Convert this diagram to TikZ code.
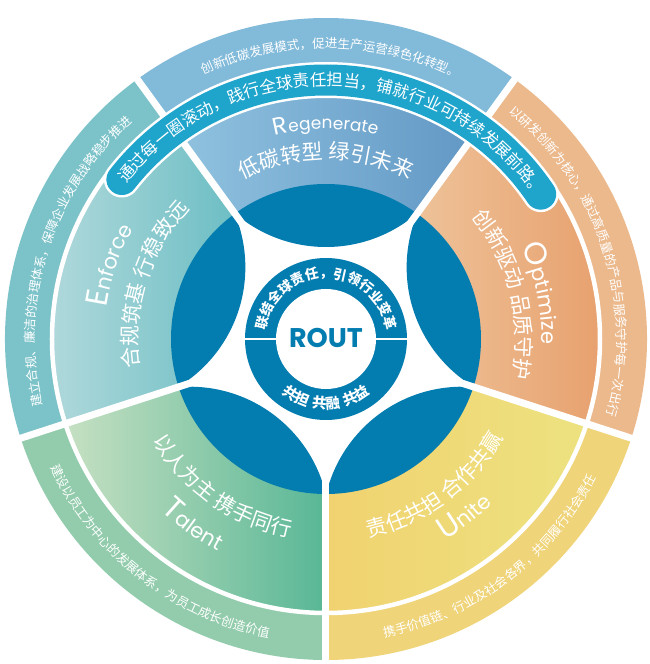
\documentclass[tikz,border=0pt]{standalone}
\usepackage{fontspec}
\newfontfamily\cjk{Noto Sans CJK SC}
\newfontfamily\latin{Poppins}
\usetikzlibrary{decorations.text}

\definecolor{disc}{RGB}{3,124,176}
\definecolor{banner}{RGB}{31,164,204}
\definecolor{regL}{RGB}{146,196,224}
\definecolor{regR}{RGB}{96,150,196}
\definecolor{regO}{RGB}{130,186,218}
\definecolor{optL}{RGB}{238,194,152}
\definecolor{optR}{RGB}{231,157,106}
\definecolor{optO}{RGB}{236,185,140}
\definecolor{uniL}{RGB}{241,210,112}
\definecolor{uniR}{RGB}{237,226,128}
\definecolor{uniO}{RGB}{240,212,122}
\definecolor{talL}{RGB}{198,224,194}
\definecolor{talR}{RGB}{88,183,150}
\definecolor{talO}{RGB}{146,204,172}
\definecolor{enfL}{RGB}{184,220,222}
\definecolor{enfR}{RGB}{108,190,196}
\definecolor{enfO}{RGB}{124,195,201}

\begin{document}
\begin{tikzpicture}[x=1pt, y=1pt,
    arctext/.style={decorate, decoration={text along path, text align=center, text color=white, text={#1}}},
    bandgap/.style={white, line width=4.5},
    sectorgap/.style={white, line width=7}]
  \useasboundingbox (-326,-325) rectangle (324,339);

  % the five sectors, inner band and outer band
  \foreach \a/\cl/\cr/\co in {90/regL/regR/regO, 18/optL/optR/optO, -54/uniL/uniR/uniO, -126/talL/talR/talO, 162/enfL/enfR/enfO}{
    \shade[left color=\cl, right color=\cr] ({\a+36}:154) arc[start angle=\a+36, end angle=\a-36, radius=154] -- ({\a-36}:274) arc[start angle=\a-36, end angle=\a+36, radius=274] -- cycle;
    \fill[\co] ({\a+36}:274) arc[start angle=\a+36, end angle=\a-36, radius=274] -- ({\a-36}:321) arc[start angle=\a-36, end angle=\a+36, radius=321] -- cycle;
  }
  \draw[bandgap] (0,0) circle[radius=274];

  % blue lobes
  \begin{scope}
    \clip (0,0) circle[radius=155];
    \foreach \a in {90,18,-54,-126,162}
      \fill[disc] (\a:232) circle[radius=140];
  \end{scope}
  \foreach \g in {54,126,198,270,342}
    \draw[sectorgap] (\g:82) -- (\g:330);

  % centre ring
  \fill[disc] (0,0) circle[radius=81];
  \fill[white] (0,0) circle[radius=50];
  \draw[white, line width=2] (-82,0) -- (-49,0) (49,0) -- (82,0);
  \node[font=\latin\bfseries\fontsize{27}{27}\selectfont, text=disc] (rout) at (0,1) {ROUT};
  \path[arctext={|\cjk\bfseries\fontsize{13.5}{14}\selectfont|联结全球责任，引领行业变革}] (178:61) arc[start angle=178, end angle=2, radius=61];
  \path[arctext={|\cjk\bfseries\fontsize{14.5}{15}\selectfont|共担{\kern5pt}共融{\kern5pt}共益}] (200:70) arc[start angle=200, end angle=340, radius=70];

  % banner
  \draw[white, line width=36, line cap=round] (142:259) arc[start angle=142, end angle=34, radius=259];
  \draw[banner, line width=31, line cap=round] (142:259) arc[start angle=142, end angle=34, radius=259];
  \path[arctext={|\cjk\fontsize{16.5}{18}\selectfont|通过每一圈滚动，践行全球责任担当，铺就行业可持续发展前路。}] (148:253) arc[start angle=148, end angle=28, radius=253];

  % outer band texts
  \path[arctext={|\cjk\fontsize{12.5}{14}\selectfont|创新低碳发展模式，促进生产运营绿色化转型。}] (129:291) arc[start angle=129, end angle=49, radius=291];
  \path[arctext={|\cjk\fontsize{12.5}{14}\selectfont|以研发创新为核心，通过高质量的产品与服务守护每一次出行}] (60:291) arc[start angle=60, end angle=-24, radius=291];
  \path[arctext={|\cjk\fontsize{12.5}{14}\selectfont|携手价值链、行业及社会各界，共同履行社会责任}] (-95:304) arc[start angle=-95, end angle=-11, radius=304];
  \path[arctext={|\cjk\fontsize{12.5}{14}\selectfont|建设以员工为中心的发展体系，为员工成长创造价值}] (190:304) arc[start angle=190, end angle=274, radius=304];
  \path[arctext={|\cjk\fontsize{12.5}{14}\selectfont|建立合规、廉洁的治理体系，保障企业发展战略稳步推进}] (205:291) arc[start angle=205, end angle=120, radius=291];

  % sector titles
  \path[arctext={|\cjk\fontsize{21}{22}\selectfont|低碳转型 绿引未来}] (140:180) arc[start angle=140, end angle=40, radius=180];
  \path[arctext={|\cjk\fontsize{21}{22}\selectfont|创新驱动 品质守护}] (62:190) arc[start angle=62, end angle=-34, radius=190];
  \path[arctext={|\cjk\fontsize{21}{22}\selectfont|责任共担 合作共赢}] (-100:203) arc[start angle=-100, end angle=-7, radius=203];
  \path[arctext={|\cjk\fontsize{21}{22}\selectfont|以人为主 携手同行}] (188:201) arc[start angle=188, end angle=282, radius=201];
  \path[arctext={|\cjk\fontsize{21}{22}\selectfont|合规筑基 行稳致远}] (210:188) arc[start angle=210, end angle=115, radius=188];

  % english words
  \path[arctext={|\latin\fontsize{24}{24}\selectfont|R|\latin\fontsize{17}{17}\selectfont|egenerate}] (130:210) arc[start angle=130, end angle=50, radius=210];
  \path[arctext={|\latin\fontsize{31}{31}\selectfont|O|\latin\fontsize{21}{21}\selectfont|ptimize}] (55:216) arc[start angle=55, end angle=-31, radius=216];
  \path[arctext={|\latin\fontsize{31}{31}\selectfont|U|\latin\fontsize{21}{21}\selectfont|nite}] (-95:234) arc[start angle=-95, end angle=-9, radius=234];
  \path[arctext={|\latin\fontsize{31}{31}\selectfont|T|\latin\fontsize{21}{21}\selectfont|alent}] (190:238) arc[start angle=190, end angle=279, radius=238];
  \path[arctext={|\latin\fontsize{31}{31}\selectfont|E|\latin\fontsize{21}{21}\selectfont|nforce}] (205:222) arc[start angle=205, end angle=117, radius=222];
\end{tikzpicture}
\end{document}
